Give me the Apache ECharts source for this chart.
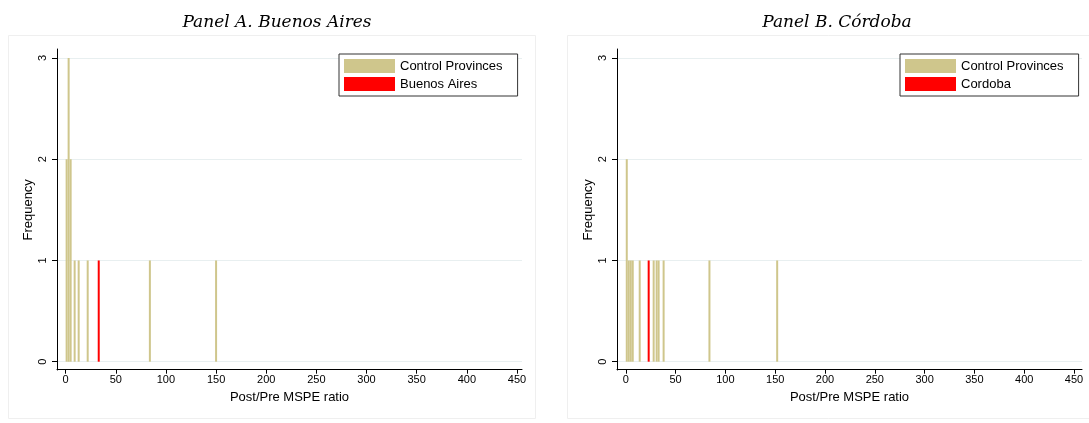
<!DOCTYPE html>
<html>
<head>
<meta charset="utf-8">
<script src="https://cdn.jsdelivr.net/npm/echarts@6/dist/echarts.min.js"></script>
<style>
  html, body { margin: 0; padding: 0; background: #fff; }
  #chart { width: 1089px; height: 423px; }
</style>
</head>
<body>
<div id="chart"></div>
<script>
// histogram bins (bin centre of Post/Pre MSPE ratio) and frequencies
var binsA = [1, 3, 5, 9, 13, 22, 84, 150];
var freqA = [2, 3, 2, 1, 1, 1, 1, 1];
var treatA = [[33, 1]];          // Buenos Aires

var binsB = [1, 3, 5, 7, 14, 28, 31, 33, 38, 84, 152];
var freqB = [2, 1, 1, 1, 1, 1, 1, 1, 1, 1, 1];
var treatB = [[23, 1]];          // Cordoba

var xTicks = [0, 50, 100, 150, 200, 250, 300, 350, 400, 450];
var yTicks = [0, 1, 2, 3];

var TAN = '#cfc68c';
var RED = '#ff0000';
var FONT = 'Liberation Sans, Arial, sans-serif';

function pairs(bins, freq) {
  var out = [];
  for (var i = 0; i < bins.length; i++) out.push([bins[i], freq[i]]);
  return out;
}

var chart = echarts.init(document.getElementById('chart'));

// each panel: inner grid for the data (0..3), outer grid only for the longer y axis line
var panels = [
  { left: 57, xmin: -8.6, xmax: 455, name: 'Buenos Aires', bins: binsA, freq: freqA, treat: treatA, legendLeft: 339 },
  { left: 617, xmin: -8.8, xmax: 458, name: 'Cordoba', bins: binsB, freq: freqB, treat: treatB, legendLeft: 900 }
];

var grids = [], xAxes = [], yAxes = [], series = [], legends = [];

panels.forEach(function (p, k) {
  grids.push({ left: p.left, width: 465, top: 58, bottom: 61.3 });
  grids.push({ left: p.left, width: 465, top: 49, bottom: 53 });

  xAxes.push({
    type: 'value', gridIndex: 2 * k, min: p.xmin, max: p.xmax, offset: 8,
    axisLine: { show: true, onZero: false, lineStyle: { color: '#000', width: 1 } },
    axisTick: { show: true, customValues: xTicks, length: 4, lineStyle: { color: '#000' } },
    axisLabel: { customValues: xTicks, margin: 5, color: '#000', fontSize: 11, fontFamily: FONT },
    splitLine: { show: false },
    name: 'Post/Pre MSPE ratio', nameLocation: 'middle', nameGap: 16,
    nameTextStyle: { color: '#000', fontSize: 13, fontFamily: FONT, verticalAlign: 'top' }
  });
  xAxes.push({ type: 'value', gridIndex: 2 * k + 1, min: p.xmin, max: p.xmax, show: false,
    axisLine: { onZero: false } });

  yAxes.push({
    type: 'value', gridIndex: 2 * k, min: 0, max: 3, interval: 1,
    axisLine: { show: false, onZero: false },
    axisTick: { show: true, length: 5, lineStyle: { color: '#000' } },
    axisLabel: { rotate: 90, margin: 9, color: '#000', fontSize: 11, fontFamily: FONT },
    splitLine: { show: true, lineStyle: { color: '#e8eff0', width: 1 } },
    name: 'Frequency', nameLocation: 'middle', nameGap: 22,
    nameTextStyle: { color: '#000', fontSize: 13, fontFamily: FONT }
  });
  yAxes.push({
    type: 'value', gridIndex: 2 * k + 1, min: 0, max: 1,
    axisLine: { show: true, onZero: false, lineStyle: { color: '#000', width: 1 } },
    axisTick: { show: false }, axisLabel: { show: false }, splitLine: { show: false }
  });

  series.push({
    name: 'Control Provinces', type: 'bar', xAxisIndex: 2 * k, yAxisIndex: 2 * k,
    data: pairs(p.bins, p.freq), barWidth: 2, barGap: '-100%',
    itemStyle: { color: TAN }, silent: true
  });
  series.push({
    name: p.name, type: 'bar', xAxisIndex: 2 * k, yAxisIndex: 2 * k,
    data: p.treat, barWidth: 2, barGap: '-100%',
    itemStyle: { color: RED }, silent: true
  });

  legends.push({
    data: ['Control Provinces', p.name], orient: 'vertical',
    left: p.legendLeft, top: 54, icon: 'rect', itemWidth: 51, itemHeight: 14, itemGap: 4,
    padding: [5, 15, 5, 5], borderColor: '#333', borderWidth: 1, backgroundColor: '#fff',
    textStyle: { color: '#000', fontSize: 13, fontFamily: FONT }, selectedMode: false
  });
});

var titleStyle = { fontFamily: 'DejaVu Serif', fontStyle: 'italic', fontWeight: 'normal', fontSize: 17, color: '#000' };

chart.setOption({
  backgroundColor: '#fff',
  animation: false,
  title: [
    { text: 'Panel A. Buenos Aires', left: 272, top: 9, textAlign: 'center', textStyle: titleStyle },
    { text: 'Panel B. Córdoba', left: 832, top: 9, textAlign: 'center', textStyle: titleStyle }
  ],
  graphic: [
    { type: 'rect', shape: { x: 8.5, y: 35.5, width: 527, height: 383 }, style: { fill: 'none', stroke: '#efefef', lineWidth: 1 }, silent: true, z: -1 },
    { type: 'rect', shape: { x: 567.5, y: 35.5, width: 540, height: 383 }, style: { fill: 'none', stroke: '#efefef', lineWidth: 1 }, silent: true, z: -1 }
  ],
  legend: legends,
  grid: grids,
  xAxis: xAxes,
  yAxis: yAxes,
  series: series
});
</script>
</body>
</html>
